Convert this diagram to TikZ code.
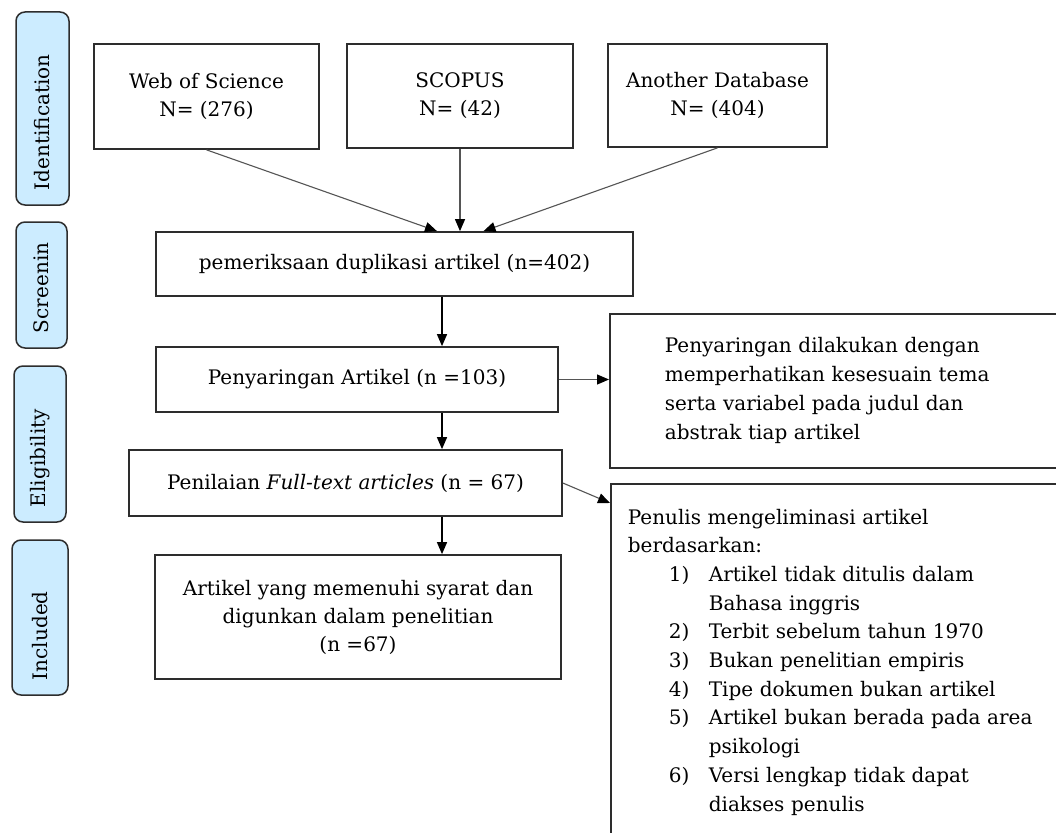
\documentclass[tikz,border=0pt]{standalone}
\usepackage{fontspec}
\setmainfont{DejaVu Serif}
\usetikzlibrary{arrows.meta}
\definecolor{lblfill}{RGB}{204,236,255}
\definecolor{edgecol}{RGB}{45,45,45}
\definecolor{conncol}{RGB}{85,85,85}
\newcommand\prsitem[1]{\hspace*{41pt}\makebox[40pt][l]{#1}}
\begin{document}
\begin{tikzpicture}[x=1pt,y=-1pt,
  box/.style={draw=edgecol, line width=1.7pt, fill=white, align=center,
    font=\fontsize{20}{28}\selectfont, inner sep=0pt},
  lbl/.style={draw=edgecol, line width=1.5pt, fill=lblfill, rounded corners=9pt,
    rotate=90, align=left, inner xsep=15pt, inner ysep=0pt,
    font=\fontsize{20}{24}\selectfont},
  arr/.style={-{Triangle[length=12pt,width=10pt]}, line width=1.4pt, draw=black},
  thinarr/.style={-{Triangle[length=12pt,width=10pt,color=black]}, line width=1.1pt, draw=conncol},
]
\useasboundingbox (0,0) rectangle (1056,832);
\fill[white] (0,0) rectangle (1056,832);

% stage labels
\node[lbl, minimum height=53pt, text width=163pt] (lid) at (42.5,108.5) {Identification};
\node[lbl, minimum height=51pt, text width=96pt]  (lsc) at (41.5,285) {Screenin};
\node[lbl, minimum height=52pt, text width=126pt] (lel) at (40,444) {Eligibility};
\node[lbl, minimum height=56pt, text width=125pt] (lin) at (40,617.5) {Included};

% sources
\node[box, minimum width=225pt, minimum height=105pt] (wos) at (206.5,96.5) {Web of Science\\N= (276)};
\node[box, minimum width=226pt, minimum height=104pt] (sco) at (460,96) {SCOPUS\\N= (42)};
\node[box, minimum width=219pt, minimum height=103pt] (adb) at (717.5,95.5) {Another Database\\N= (404)};

% main flow
\node[box, minimum width=477pt, minimum height=64pt] (pem) at (394.5,264) {pemeriksaan duplikasi artikel (n=402)};
\node[box, minimum width=402pt, minimum height=65pt] (pen) at (357,379.5) {Penyaringan Artikel (n =103)};
\node[box, minimum width=433pt, minimum height=66pt] (pnl) at (345.5,483) {Penilaian \textit{Full-text articles} (n = 67)};
\node[box, minimum width=406pt, minimum height=124pt] (inc) at (358,617) {Artikel yang memenuhi syarat dan\\digunkan dalam penelitian\\(n =67)};

% side boxes
\node[box, anchor=north west, align=left, text width=390pt, inner xsep=55pt,
  minimum height=154pt, font=\fontsize{20}{29}\selectfont] (rb1) at (609,313)
  {Penyaringan dilakukan dengan\\memperhatikan kesesuain tema\\serta variabel pada judul dan\\abstrak tiap artikel};
\node[box, anchor=north west, align=left, text width=466pt, inner xsep=17pt,
  inner ysep=25pt, font=\fontsize{20}{28.7}\selectfont] (rb2) at (610,483)
  {Penulis mengeliminasi artikel\\
   berdasarkan:\\
   \prsitem{1)}Artikel tidak ditulis dalam\\
   \hspace*{81pt}Bahasa inggris\\
   \prsitem{2)}Terbit sebelum tahun 1970\\
   \prsitem{3)}Bukan penelitian empiris\\
   \prsitem{4)}Tipe dokumen bukan artikel\\
   \prsitem{5)}Artikel bukan berada pada area\\
   \hspace*{81pt}psikologi\\
   \prsitem{6)}Versi lengkap tidak dapat\\
   \hspace*{81pt}diakses penulis};

% connectors
\coordinate (spine) at (442,0);
\draw[thinarr] (wos.south) -- ([xshift=42.5pt]pem.north);
\draw[thinarr] (sco.south) -- (sco.south |- pem.north);
\draw[thinarr] (adb.south) -- ([xshift=89pt]pem.north);
\draw[arr] (pem.south -| spine) -- (pen.north -| spine);
\draw[thinarr] (pen.east) -- (pen.east -| rb1.west);
\draw[arr] (pen.south -| spine) -- (pnl.north -| spine);
\draw[thinarr] (pnl.east) -- ([yshift=-20pt]rb2.north west);
\draw[arr] (pnl.south -| spine) -- (inc.north -| spine);
\end{tikzpicture}
\end{document}
